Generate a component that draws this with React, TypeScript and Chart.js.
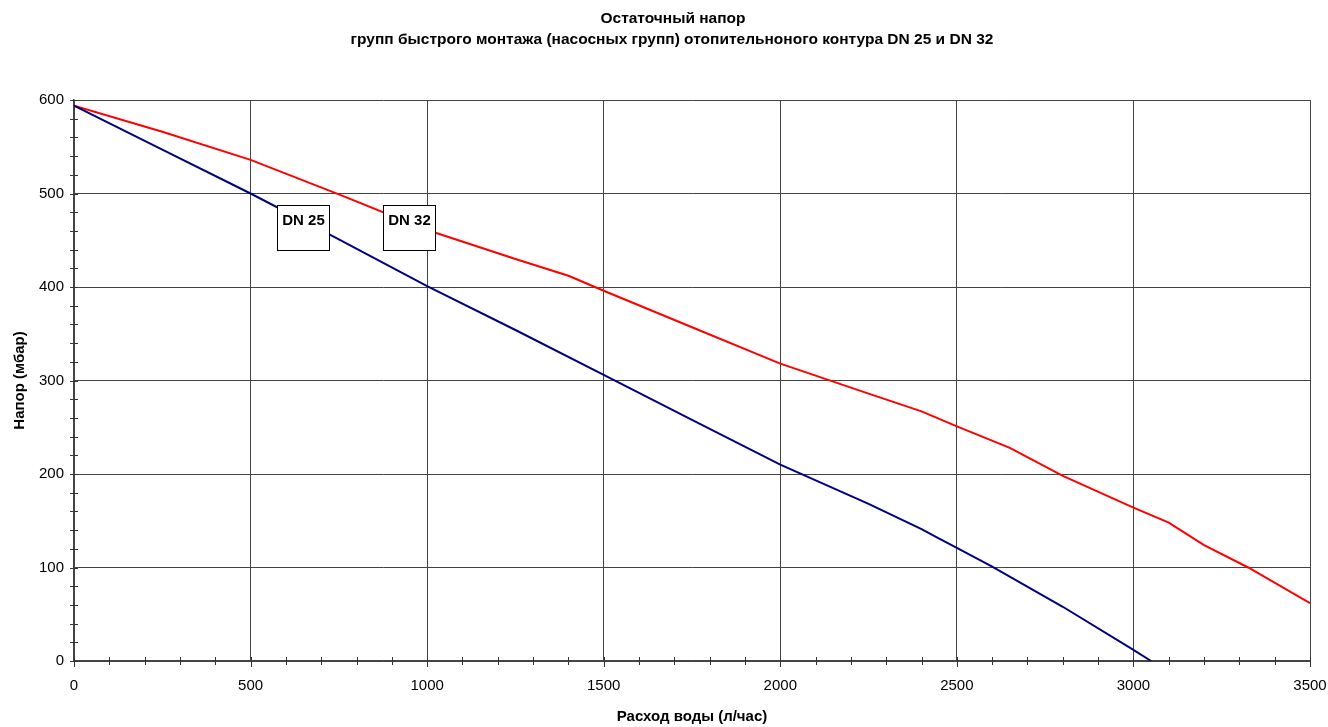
import React, { useEffect, useRef } from "react";
import { Chart, registerables } from "chart.js";

Chart.register(...registerables);

const titleLines = [
  "Остаточный напор",
  "групп быстрого монтажа (насосных групп) отопительноного контура DN 25 и DN 32",
];
const xAxisTitle = "Расход воды (л/час)";
const yAxisTitle = "Напор (мбар)";

const flowDN25 = [0, 250, 500, 750, 1000, 1250, 1500, 1750, 2000, 2250, 2400, 2450, 2500, 2560, 2600, 2800, 3000, 3050];
const headDN25 = [594, 547, 500, 451, 401, 354, 306, 258, 210, 168, 141, 131, 121, 109, 101, 58, 12, 0];

const flowDN32 = [0, 250, 500, 750, 1000, 1250, 1400, 1500, 1750, 2000, 2250, 2400, 2500, 2650, 2800, 3000, 3100, 3200, 3325, 3500];
const headDN32 = [594, 566, 536, 499, 461, 430, 412, 396, 357, 318, 286, 267, 251, 228, 198, 164, 148, 124, 100, 62];

const seriesLabels = ["DN 25", "DN 32"];
// label boxes anchored at data coordinates (top-left corner)
const labelAnchorX = [575, 875];
const labelAnchorY = [488, 488];

const FONT = '"Liberation Sans", Arial, sans-serif';

export default function App() {
  const ref = useRef<HTMLCanvasElement | null>(null);
  useEffect(() => {
    if (!ref.current) return;
    const decor = {
      id: "decor",
      afterDatasetsDraw(chart: any) {
        const ctx = chart.ctx;
        const xs = chart.scales.x;
        const ys = chart.scales.y;
        const area = chart.chartArea;
        ctx.save();
        ctx.strokeStyle = "#333";
        ctx.lineWidth = 1;
        for (let v = 0; v <= 600; v += 20) {
          const y = Math.round(ys.getPixelForValue(v)) + 0.5;
          ctx.beginPath();
          ctx.moveTo(area.left - 4, y);
          ctx.lineTo(area.left + 4, y);
          ctx.stroke();
        }
        for (let v = 0; v <= 3500; v += 100) {
          const x = Math.round(xs.getPixelForValue(v)) + 0.5;
          ctx.beginPath();
          ctx.moveTo(x, area.bottom - 4);
          ctx.lineTo(x, area.bottom + (v % 500 === 0 ? 6 : 4));
          ctx.stroke();
        }
        for (let i = 0; i < seriesLabels.length; i++) {
          const bx = Math.round(xs.getPixelForValue(labelAnchorX[i])) + 0.5;
          const by = Math.round(ys.getPixelForValue(labelAnchorY[i])) + 0.5;
          const w = 52;
          const h = 45;
          ctx.fillStyle = "#fff";
          ctx.fillRect(bx, by, w, h);
          ctx.strokeStyle = "#000";
          ctx.lineWidth = 1;
          ctx.strokeRect(bx, by, w, h);
          ctx.fillStyle = "#000";
          ctx.font = `bold 15px ${FONT}`;
          ctx.textAlign = "center";
          ctx.textBaseline = "middle";
          ctx.fillText(seriesLabels[i], bx + w / 2, by + 15);
        }
        ctx.restore();
      },
      afterDraw(chart: any) {
        const ctx = chart.ctx;
        const area = chart.chartArea;
        ctx.save();
        ctx.fillStyle = "#000";
        ctx.textAlign = "center";
        ctx.textBaseline = "middle";
        ctx.font = `bold 15.5px ${FONT}`;
        ctx.fillText(titleLines[0], 673, 19);
        ctx.fillText(titleLines[1], 672, 40);
        ctx.font = `bold 15px ${FONT}`;
        ctx.fillText(xAxisTitle, (area.left + area.right) / 2, 717);
        ctx.translate(20, (area.top + area.bottom) / 2);
        ctx.rotate(-Math.PI / 2);
        ctx.fillText(yAxisTitle, 0, 0);
        ctx.restore();
      },
    };

    const chart = new Chart(ref.current, {
      type: "line",
      data: {
        datasets: [
          {
            label: seriesLabels[0],
            data: flowDN25.map((x, i) => ({ x, y: headDN25[i] })),
            borderColor: "#000080",
            borderWidth: 2,
            pointRadius: 0,
            tension: 0,
            fill: false,
          },
          {
            label: seriesLabels[1],
            data: flowDN32.map((x, i) => ({ x, y: headDN32[i] })),
            borderColor: "#ff0000",
            borderWidth: 2,
            pointRadius: 0,
            tension: 0,
            fill: false,
          },
        ],
      },
      plugins: [decor],
      options: {
        responsive: false,
        animation: false,
        layout: { padding: { top: 100, right: 18, left: 0, bottom: 0 } },
        plugins: {
          legend: { display: false },
          title: { display: false },
          tooltip: { enabled: false },
        },
        scales: {
          x: {
            type: "linear",
            min: 0,
            max: 3500,
            ticks: {
              stepSize: 500,
              padding: 16,
              color: "#000",
              font: { family: FONT, size: 15 },
              maxRotation: 0,
              callback: (v: any) => String(v),
            },
            grid: { color: "#444", lineWidth: 1, drawTicks: false },
            border: { color: "#444", width: 1.5 },
            afterFit(scale: any) {
              scale.height = 66;
              scale.paddingRight = 0;
              scale.paddingLeft = 0;
            },
          },
          y: {
            type: "linear",
            min: 0,
            max: 600,
            ticks: {
              stepSize: 100,
              padding: 10,
              color: "#000",
              font: { family: FONT, size: 15 },
              callback: (v: any) => String(v),
            },
            grid: { color: "#444", lineWidth: 1, drawTicks: false },
            border: { color: "#444", width: 1.5 },
            afterFit(scale: any) {
              scale.width = 74;
              scale.paddingTop = 0;
              scale.paddingBottom = 0;
            },
          },
        },
      },
    } as any);
    return () => chart.destroy();
  }, []);
  return (
    <div style={{ position: "fixed", left: 0, top: 0, width: 1328, height: 727, background: "#fff" }}>
      <canvas ref={ref} width={1328} height={727} />
    </div>
  );
}
